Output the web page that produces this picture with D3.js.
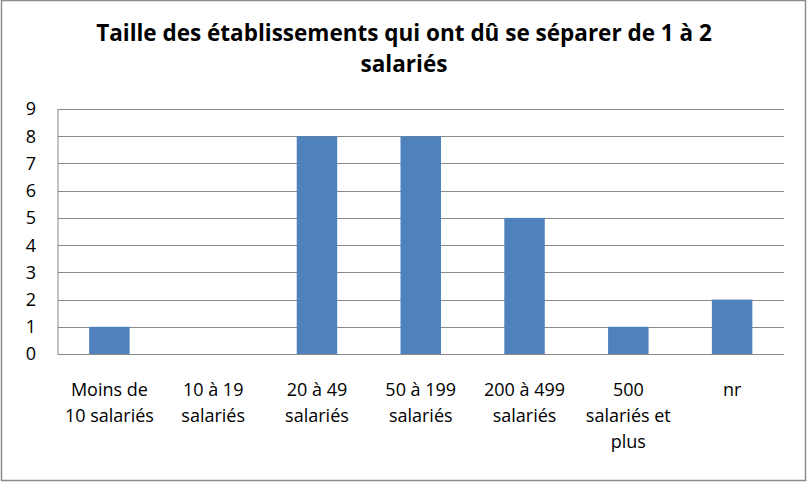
<!DOCTYPE html>
<html lang="fr">
<head>
  <meta charset="UTF-8">
  <title>Taille des établissements</title>
  <script src="https://d3js.org/d3.v7.min.js"></script>
  <style>
    body { margin: 0; background: #fff; }
    svg text { font-family: "Open Sans", "Noto Sans", sans-serif; fill: #000; }
  </style>
</head>
<body>
  <svg id="chart" width="807" height="483"></svg>
  <script>
    const categories = [
      ["Moins de", "10 salariés"],
      ["10 à 19", "salariés"],
      ["20 à 49", "salariés"],
      ["50 à 199", "salariés"],
      ["200 à 499", "salariés"],
      ["500", "salariés et", "plus"],
      ["nr"]
    ];
    const values = [1, 0, 8, 8, 5, 1, 2];
    const yTicks = [0, 1, 2, 3, 4, 5, 6, 7, 8, 9];
    const titleLines = ["Taille des établissements qui ont dû se séparer de 1 à 2", "salariés"];

    const width = 807, height = 483;
    const margin = { top: 109, right: 23, bottom: 129, left: 57.5 };
    const innerW = width - margin.left - margin.right;
    const innerH = height - margin.top - margin.bottom;

    const svg = d3.select("#chart");

    // outer frame
    svg.append("rect")
      .attr("x", 1.5).attr("y", 0.5)
      .attr("width", width - 3).attr("height", height - 3)
      .attr("fill", "#fff")
      .attr("stroke", "#8c8c8c")
      .attr("stroke-width", 1.5);

    svg.append("text")
      .attr("x", 404)
      .attr("y", 41)
      .attr("text-anchor", "middle")
      .style("font-size", "22.5px")
      .style("font-weight", "bold")
      .selectAll("tspan")
      .data(titleLines)
      .enter().append("tspan")
      .attr("x", 404)
      .attr("dy", (d, i) => i === 0 ? 0 : 31)
      .text(d => d);

    const g = svg.append("g").attr("transform", `translate(${margin.left},${margin.top})`);

    const x = d3.scaleBand().domain(d3.range(categories.length)).range([0, innerW]).paddingInner(0.61).paddingOuter(0.305);
    const y = d3.scaleLinear().domain([0, 9]).range([innerH, 0]);

    // gridlines
    g.append("g")
      .selectAll("line")
      .data(yTicks)
      .enter().append("line")
      .attr("x1", 0).attr("x2", innerW)
      .attr("y1", d => Math.round(y(d)) + 0.5).attr("y2", d => Math.round(y(d)) + 0.5)
      .attr("stroke", "#8a8a8a")
      .attr("stroke-width", 1);

    g.append("line")
      .attr("x1", 0.5).attr("x2", 0.5)
      .attr("y1", 0).attr("y2", innerH)
      .attr("stroke", "#8a8a8a");

    // y tick labels
    g.append("g")
      .selectAll("text")
      .data(yTicks)
      .enter().append("text")
      .attr("x", -21.5)
      .attr("y", d => y(d))
      .attr("dy", "0.36em")
      .attr("text-anchor", "end")
      .style("font-size", "18px")
      .text(d => d);

    // bars
    g.append("g")
      .selectAll("rect")
      .data(values)
      .enter().append("rect")
      .attr("x", (d, i) => x(i))
      .attr("width", x.bandwidth())
      .attr("y", d => y(d))
      .attr("height", d => innerH - y(d))
      .attr("fill", "#4f81bd");

    // category labels
    const labels = g.append("g")
      .selectAll("text")
      .data(categories)
      .enter().append("text")
      .attr("text-anchor", "middle")
      .attr("transform", (d, i) => `translate(${x(i) + x.bandwidth() / 2},${innerH + 42})`)
      .style("font-size", "18px");
    labels.selectAll("tspan")
      .data(d => d)
      .enter().append("tspan")
      .attr("x", 0)
      .attr("y", (d, i) => i * 26)
      .text(d => d);
  </script>
</body>
</html>
